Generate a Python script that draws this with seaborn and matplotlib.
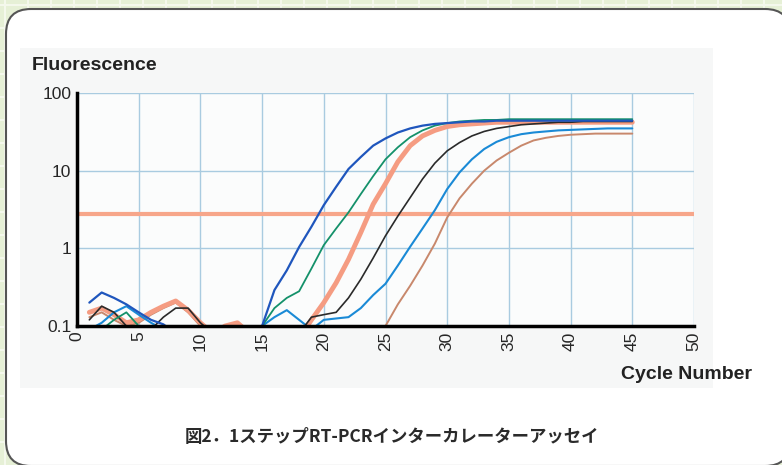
import numpy as np
import pandas as pd
import matplotlib
matplotlib.use("Agg")
import matplotlib.pyplot as plt
import seaborn as sns
from matplotlib.patches import FancyBboxPatch, Rectangle

# cycles 1..45, fluorescence (values < 0.1 fall below the axis)
cycles = list(range(1, 46))

blue = [0.2, 0.27, 0.23, 0.19, 0.15, 0.12, 0.105, 0.08, 0.06, 0.05,
        0.05, 0.05, 0.05, 0.06, 0.1, 0.29, 0.52, 1.04, 1.9, 3.6,
        6.2, 10.5, 15, 21, 26, 31, 35, 38, 40, 41,
        42, 43, 43, 44, 44, 44, 44, 44, 44, 44,
        44, 44, 44, 44, 44]
green = [0.08, 0.09, 0.12, 0.15, 0.1, 0.08, 0.05, 0.05, 0.05, 0.05,
         0.05, 0.05, 0.05, 0.05, 0.1, 0.17, 0.23, 0.28, 0.55, 1.1,
         1.8, 2.9, 5, 8.5, 14, 20, 27, 33, 38, 41,
         43, 44, 45, 45, 46, 46, 46, 46, 46, 46,
         46, 46, 46, 46, 46]
salmon = [0.15, 0.17, 0.14, 0.11, 0.12, 0.15, 0.18, 0.21, 0.16, 0.11,
          0.08, 0.1, 0.11, 0.08, 0.05, 0.05, 0.05, 0.07, 0.12, 0.2,
          0.36, 0.72, 1.6, 3.7, 6.8, 13, 21, 28, 33, 37,
          39, 40, 41, 42, 42, 42, 42, 42, 42, 42,
          42, 42, 42, 42, 42]
black = [0.12, 0.18, 0.15, 0.1, 0.08, 0.09, 0.13, 0.17, 0.17, 0.11,
         0.08, 0.05, 0.05, 0.05, 0.05, 0.05, 0.05, 0.08, 0.13, 0.14,
         0.15, 0.23, 0.4, 0.75, 1.45, 2.6, 4.5, 7.8, 12.5, 18,
         23, 28, 32, 35, 37, 39, 40, 41, 42, 42,
         43, 43, 43, 43, 43]
lightblue = [0.09, 0.11, 0.15, 0.18, 0.14, 0.11, 0.09, 0.05, 0.05, 0.05,
             0.05, 0.05, 0.05, 0.05, 0.1, 0.13, 0.16, 0.12, 0.09, 0.12,
             0.125, 0.13, 0.17, 0.25, 0.35, 0.6, 1.05, 1.8, 3.1, 5.8,
             9.5, 14, 19, 23.5, 27, 29.5, 31, 32, 33, 33.5,
             34, 34.5, 35, 35, 35]
brown = [0.13, 0.15, 0.12, 0.1, 0.11, 0.14, 0.17, 0.2, 0.15, 0.1,
         0.07, 0.09, 0.1, 0.07, 0.05, 0.05, 0.05, 0.05, 0.05, 0.05,
         0.05, 0.05, 0.05, 0.05, 0.1, 0.19, 0.33, 0.6, 1.15, 2.5,
         4.4, 6.8, 10, 13.5, 17, 21, 24.5, 26.5, 28, 29,
         29.5, 30, 30, 30, 30]
threshold = 2.8

x_ticks = list(range(0, 51, 5))
y_ticks = [0.1, 1, 10, 100]
y_labels = ["0.1", "1", "10", "100"]

W, H = 782, 465
sns.set_style("white")
plt.rcParams["font.family"] = ["Liberation Sans", "Noto Sans CJK JP", "DejaVu Sans"]

fig = plt.figure(figsize=(W / 100, H / 100), dpi=100)

# page background: green graph paper + white rounded panel
bg = fig.add_axes([0, 0, 1, 1], zorder=-10)
bg.set_xlim(0, W)
bg.set_ylim(H, 0)
bg.axis("off")
bg.add_patch(Rectangle((0, 0), W, H, facecolor="#e6f0d6", edgecolor="none", zorder=0))
for g in range(5, W, 23):
    bg.plot([g, g], [0, H], color="#f4f8ec", lw=1.5, zorder=1)
for g in range(5, H, 23):
    bg.plot([0, W], [g, g], color="#f4f8ec", lw=1.5, zorder=1)
bg.add_patch(FancyBboxPatch((6, 9), 784, 457, boxstyle="round,pad=0,rounding_size=25",
                            facecolor="white", edgecolor="#555555", lw=1.5, zorder=3))
bg.add_patch(Rectangle((20, 48), 693, 340, facecolor="#f6f7f7", edgecolor="none", zorder=4))

ax = fig.add_axes([77 / W, 1 - 326 / H, (694 - 77) / W, (326 - 93) / H])
ax.set_facecolor("#fbfcfc")

ax.axhline(threshold, color="#f7a68a", lw=3, zorder=2)

series = [
    (brown, "#c8886c", 1.4),
    (salmon, "#f59c82", 3.5),
    (lightblue, "#1a8ad6", 1.5),
    (black, "#2a2a2a", 1.2),
    (green, "#14916a", 1.3),
    (blue, "#1f56bd", 1.6),
]
for vals, col, lw in series:
    sns.lineplot(x=cycles, y=vals, color=col, lw=lw, ax=ax, zorder=3)

ax.set_yscale("log")
ax.set_xlim(0, 50)
ax.set_ylim(0.1, 100)
ax.set_xticks(x_ticks)
ax.set_xticklabels([str(t) for t in x_ticks], rotation=90, fontsize=12.5)
ax.set_yticks(y_ticks)
ax.set_yticklabels(y_labels, fontsize=12.5)
ax.minorticks_off()
ax.tick_params(length=0, pad=4)
ax.grid(True, color="#a9cbe0", lw=1)
for s in ["top", "right"]:
    ax.spines[s].set_visible(False)
for s in ["left", "bottom"]:
    ax.spines[s].set_color("black")
    ax.spines[s].set_linewidth(2.5)
    ax.spines[s].set_zorder(5)
ax.set_xlabel("")
ax.set_ylabel("")

fig.text(32 / W, 1 - 65 / H, "Fluorescence", fontsize=14, fontweight="bold",
         color="#222222", ha="left", va="center")
fig.text(752 / W, 1 - 374 / H, "Cycle Number", fontsize=14, fontweight="bold",
         color="#222222", ha="right", va="center")
fig.text(392 / W, 1 - 437 / H, "図2．1ステップRT-PCRインターカレーターアッセイ", fontsize=12.5,
         fontweight="bold", color="#2a2a2a", ha="center", va="center",
         family=["Noto Sans CJK JP", "DejaVu Sans"])

fig.savefig("out.png", dpi=100)
